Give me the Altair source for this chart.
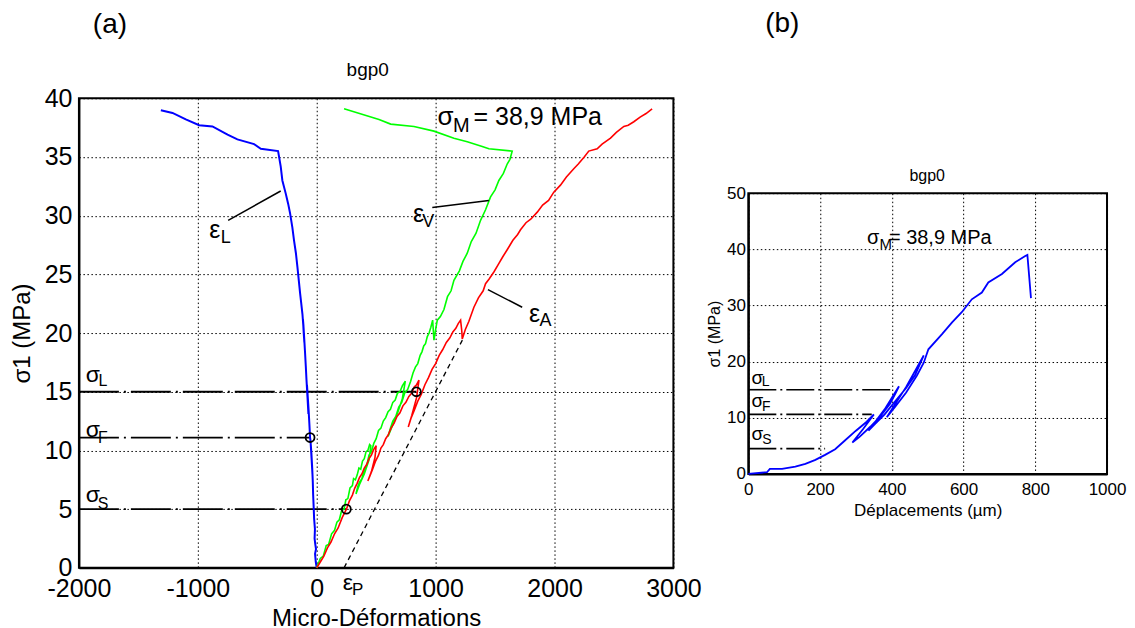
import altair as alt
import pandas as pd

FONT = "Liberation Sans"

# ---------------- Panel (a) data ----------------
epsL_x = [0, -8, -14, -6, -12, -18, -15, -22, -25, -30, -33, -38, -45, -50, -42, -36, -44, -52, -56, -62, -68, -75,
          -82, -76, -70, -78, -86, -92, -98, -105, -112, -116, -110, -104, -112, -120, -130, -140, -150,
          -162, -175, -191, -205, -224, -240, -261, -289, -303, -325, -470, -527, -667, -750, -877, -989,
          -1101, -1213, -1311]
epsL_y = [0, 0.5, 1.2, 1.6, 2.0, 2.5, 3.3, 4.2, 5.0, 6.2, 7.3, 8.5, 9.8, 10.5, 9.2, 8.0, 9.4, 10.8, 11.1, 12.3, 13.4, 14.5,
          15.6, 14.4, 13.1, 14.6, 16.0, 17.2, 18.3, 19.5, 20.7, 21.2, 20.1, 19.2, 20.5, 21.6, 22.5, 23.4, 24.4,
          25.6, 26.8, 27.9, 29.0, 30.2, 31.0, 31.9, 33.0, 34.2, 35.5, 35.7, 36.1, 36.5, 36.9, 37.6, 37.7,
          38.2, 38.75, 38.98]

epsV_x = [0, 30, 55, 80, 100, 125, 150, 170, 190, 210, 230, 245, 262, 280, 300, 310, 325, 340, 355, 370, 385,
          400, 415, 430, 445, 455,
          440, 400, 360, 330,
          345, 360, 380, 400, 420, 440, 460, 480, 500, 520, 540, 560, 580, 600, 620, 640, 660, 680, 700, 720, 745,
          720, 680, 640, 600,
          620, 640, 665, 690, 715, 740, 765, 790, 810, 830, 850, 870, 885, 900, 915, 930, 945, 960, 975,
          980, 986, 1000,
          1014, 1040, 1070, 1100, 1130, 1154, 1200, 1230, 1266, 1300, 1340, 1378, 1420, 1462, 1500, 1532, 1570,
          1602, 1625, 1644,
          1448, 1392, 1266, 1154, 986, 818, 622, 524, 230]
epsV_y = [0, 0.8, 1.0, 1.9, 2.0, 2.9, 3.2, 3.9, 4.1, 4.9, 5.0, 5.8, 5.9, 6.8, 7.0, 7.6, 7.5, 7.9, 8.5, 8.4, 9.1,
          9.3, 9.9, 10.0, 10.5, 10.4,
          9.2, 8.0, 7.1, 6.3,
          6.9, 7.3, 7.6, 8.4, 8.7, 9.6, 9.9, 10.6, 11.0, 11.7, 11.9, 12.5, 12.8, 13.3, 13.5, 14.1, 14.3, 14.9, 15.0,
          15.5, 15.9,
          14.4, 13.2, 12.2, 11.2,
          11.9, 12.5, 12.9, 13.7, 14.1, 14.9, 15.2, 15.9, 16.6, 17.1, 17.4, 18.1, 18.4, 18.9, 19.1, 19.7, 20.0,
          20.5, 21.1,
          20.3, 19.4, 20.3,
          21.1, 21.4, 22.0, 23.1, 23.6, 24.5, 25.3, 26.1, 26.8, 27.8, 28.5, 29.6, 30.5, 31.6, 32.2, 33.0, 33.6,
          34.4, 34.8, 35.5,
          35.7, 35.9, 36.3, 36.6, 37.2, 37.6, 37.8, 38.2, 39.1]

epsA_x = [0, 30, 60, 90, 120, 150, 180, 215, 250, 275, 300, 320, 340, 360, 380, 400, 420, 440, 460, 480, 500,
          490, 460, 430,
          450, 470, 495, 520, 540, 560, 580, 600, 625, 650, 675, 700, 725, 750, 775, 800, 820, 840, 860,
          840, 800, 770,
          795, 820, 850, 880, 910, 940, 970, 1000, 1030, 1060, 1090, 1120, 1145, 1170, 1190, 1210,
          1220, 1224,
          1250, 1280, 1322, 1360, 1400, 1420, 1450, 1490, 1530, 1565, 1602, 1650, 1690, 1714, 1760, 1800, 1855,
          1900, 1950, 1994, 2050, 2100, 2162, 2200, 2250, 2288, 2359, 2400, 2471, 2520, 2583, 2620, 2667, 2720,
          2770, 2821]
epsA_y = [0, 0.5, 1.0, 1.7, 2.2, 2.9, 3.4, 4.3, 5.0, 5.7, 6.2, 6.8, 7.2, 7.7, 8.0, 8.5, 8.8, 9.3, 9.6, 10.1, 10.4,
          9.4, 8.2, 7.4,
          7.9, 8.4, 9.1, 9.6, 10.2, 10.5, 11.0, 11.3, 11.9, 12.3, 12.9, 13.2, 13.8, 14.1, 14.6, 14.9, 15.4, 15.6,
          16.0,
          14.5, 13.0, 12.0,
          12.8, 13.4, 14.2, 14.8, 15.6, 16.2, 16.9, 17.4, 18.1, 18.6, 19.2, 19.6, 20.1, 20.4, 20.8, 21.1,
          20.2, 19.5,
          20.3, 21.0, 22.2, 23.0, 23.6, 24.2, 24.6, 25.2, 25.9, 26.5, 27.1, 27.9, 28.4, 28.8, 29.4, 29.7, 30.3,
          30.9, 31.3, 32.0, 32.6, 33.3, 34.0, 34.4, 35.0, 35.5, 35.7, 36.1, 36.6, 37.1, 37.6, 37.7, 38.0, 38.4,
          38.7, 39.1]

dashP_x = [230, 1225]
dashP_y = [0, 19.4]

thrA_y = [15, 11.1, 5]
thrA_xend = [838, -56, 249]
thrA_xstart = [-2000, -2000, -2000]

# ---------------- Panel (b) data ----------------
disp_x = [0, 52, 60, 94, 131, 159, 187, 214, 242, 270, 300, 330, 350,
          320, 290,
          310, 340, 370, 395, 410, 420,
          380, 335,
          350, 380, 410, 440, 465, 489,
          440, 386,
          410, 440, 470, 489, 502, 540, 568, 595, 623, 651, 669, 707, 744, 772, 778, 788]
disp_y = [0, 0.3, 0.9, 0.9, 1.3, 1.8, 2.5, 3.4, 4.4, 6.0, 7.7, 9.3, 10.6,
          8.0, 5.6,
          6.6, 8.4, 10.4, 12.5, 14.3, 15.6,
          11.5, 7.7,
          8.7, 10.6, 13.0, 15.3, 17.6, 21.1,
          15.5, 10.1,
          12.0, 14.5, 17.5, 19.8, 22.2, 24.9, 27.0, 28.8, 31.1, 32.3, 34.1, 35.6, 37.7, 38.8, 39.0, 31.3]

thrB_y = [15, 10.6, 4.5]
thrB_xend = [400, 344, 214]
thrB_xstart = [0, 0, 0]


def series(xs, ys):
    return pd.DataFrame({"x": xs, "y": ys, "i": list(range(len(xs)))})


def spacer(ypix):
    # invisible element that only fixes the vertical extent of a panel
    return alt.Chart(pd.DataFrame({"k": [0]})).mark_rule(opacity=0).encode(
        x=alt.value(0), x2=alt.value(1), y=alt.value(ypix))


NB = "\u00a0\u00a0"
NEG_LABEL = "datum.value < 0 ? datum.value + '" + NB + "' : '' + datum.value"

# ---------------- Panel (a) ----------------
xa = alt.X("x:Q", scale=alt.Scale(domain=[-2000, 3000], nice=False, zero=False),
           axis=alt.Axis(values=[-2000, -1000, 0, 1000, 2000, 3000], labelExpr=NEG_LABEL,
                         labelFlush=False, title="Micro-Déformations", labelFontSize=25, titleFontSize=24,
                         labelPadding=9, titlePadding=5))
ya = alt.Y("y:Q", scale=alt.Scale(domain=[0, 40], nice=False, zero=False),
           axis=alt.Axis(values=[0, 5, 10, 15, 20, 25, 30, 35, 40], labelExpr="'' + datum.value",
                         title="σ1 (MPa)", labelFontSize=25, titleFontSize=24,
                         labelPadding=7, titlePadding=10))

lineA_blue = alt.Chart(series(epsL_x, epsL_y)).mark_line(color="#0000FF", strokeWidth=2).encode(x=xa, y=ya, order="i:Q")
lineA_green = alt.Chart(series(epsV_x, epsV_y)).mark_line(color="#00FF00", strokeWidth=1.6).encode(x=xa, y=ya, order="i:Q")
lineA_red = alt.Chart(series(epsA_x, epsA_y)).mark_line(color="#FF0000", strokeWidth=1.6).encode(x=xa, y=ya, order="i:Q")
dashA = alt.Chart(series(dashP_x, dashP_y)).mark_line(color="black", strokeWidth=1.3, strokeDash=[5, 4]).encode(x=xa, y=ya, order="i:Q")

thrA = alt.Chart(pd.DataFrame({"x": thrA_xstart, "x2": thrA_xend, "y": thrA_y})).mark_rule(
    color="black", strokeWidth=1.8, strokeDash=[40, 5, 2, 5]).encode(x=xa, x2="x2:Q", y=ya)
circA = alt.Chart(pd.DataFrame({"x": thrA_xend, "y": thrA_y})).mark_point(
    shape="circle", filled=False, color="black", size=80, strokeWidth=1.8, opacity=1).encode(x=xa, y=ya)

leadA = alt.Chart(pd.DataFrame({
    "x": [-745, 972, 1728], "y": [29.6, 30.7, 22.2],
    "x2": [-303, 1448, 1440], "y2": [32.1, 31.3, 23.7]})).mark_rule(color="black", strokeWidth=1.5).encode(
    x=xa, y=ya, x2="x2:Q", y2="y2:Q")

mainA = pd.DataFrame({"x": [-857, 857, 1832, 261, -1882, -1882, -1882, 1084],
                      "y": [28.8, 30.1, 21.6, -1.28, 16.4, 11.7, 6.2, 38.4],
                      "t": ["ε", "ε", "ε", "ε", "σ", "σ", "σ", "σ"],
                      "fs": [25, 25, 25, 23, 23, 23, 23, 26]})
subA = pd.DataFrame({"x": [-765, 937, 1924, 345, -1798, -1798, -1798, 1216],
                     "y": [28.1, 29.5, 21.0, -1.87, 15.9, 11.1, 5.45, 37.6],
                     "t": ["L", "V", "A", "P", "L", "F", "S", "M"],
                     "fs": [18, 18, 18, 17, 16, 16, 16, 20]})
txtA_main = alt.Chart(mainA).mark_text(font=FONT, color="black", baseline="middle", align="center").encode(
    x=xa, y=ya, text="t:N", size=alt.Size("fs:Q", scale=None, legend=None))
txtA_sub = alt.Chart(subA).mark_text(font=FONT, color="black", baseline="middle", align="center").encode(
    x=xa, y=ya, text="t:N", size=alt.Size("fs:Q", scale=None, legend=None))
txtA_max = alt.Chart(pd.DataFrame({"x": [1319], "y": [38.4], "t": ["= 38,9 MPa"]})).mark_text(
    font=FONT, fontSize=25, color="black", baseline="middle", align="left").encode(x=xa, y=ya, text="t:N")

titleA = alt.Chart(pd.DataFrame({"t": ["bgp0"]})).mark_text(
    font=FONT, fontSize=19, color="black", align="center", baseline="middle").encode(
    x=alt.value(289), y=alt.value(-28), text="t:N")
tagA = alt.Chart(pd.DataFrame({"t": ["(a)"]})).mark_text(
    font=FONT, fontSize=28, color="black", align="center", baseline="middle").encode(
    x=alt.value(31), y=alt.value(-73), text="t:N")

panelA = alt.layer(thrA, dashA, lineA_blue, lineA_green, lineA_red, circA, leadA,
                   txtA_main, txtA_sub, txtA_max, titleA, tagA, spacer(694)).properties(width=595, height=470)

# ---------------- Panel (b) ----------------
xb = alt.X("x:Q", scale=alt.Scale(domain=[0, 1000], nice=False, zero=False),
           axis=alt.Axis(values=[0, 200, 400, 600, 800, 1000], labelExpr="'' + datum.value",
                         labelFlush=False, title="Déplacements (µm)", labelFontSize=17, titleFontSize=17,
                         labelPadding=8, titlePadding=5))
yb = alt.Y("y:Q", scale=alt.Scale(domain=[0, 50], nice=False, zero=False),
           axis=alt.Axis(values=[0, 10, 20, 30, 40, 50], labelExpr="'' + datum.value",
                         title="σ1 (MPa)", labelFontSize=17, titleFontSize=16,
                         labelPadding=3, titlePadding=4))

lineB = alt.Chart(series(disp_x, disp_y)).mark_line(color="#0000FF", strokeWidth=1.8).encode(x=xb, y=yb, order="i:Q")
thrB = alt.Chart(pd.DataFrame({"x": thrB_xstart, "x2": thrB_xend, "y": thrB_y})).mark_rule(
    color="black", strokeWidth=1.6, strokeDash=[28, 4, 2, 4]).encode(x=xb, x2="x2:Q", y=yb)

mainB = pd.DataFrame({"x": [25, 25, 25, 348], "y": [17.1, 12.9, 7.1, 42.1],
                      "t": ["σ", "σ", "σ", "σ"], "fs": [19, 19, 19, 20]})
subB = pd.DataFrame({"x": [48, 50, 52, 383], "y": [16.4, 12.0, 6.0, 41.0],
                     "t": ["L", "F", "S", "M"], "fs": [14, 14, 14, 15]})
txtB_main = alt.Chart(mainB).mark_text(font=FONT, color="black", baseline="middle", align="center").encode(
    x=xb, y=yb, text="t:N", size=alt.Size("fs:Q", scale=None, legend=None))
txtB_sub = alt.Chart(subB).mark_text(font=FONT, color="black", baseline="middle", align="center").encode(
    x=xb, y=yb, text="t:N", size=alt.Size("fs:Q", scale=None, legend=None))
txtB_max = alt.Chart(pd.DataFrame({"x": [392], "y": [42.1], "t": ["= 38,9 MPa"]})).mark_text(
    font=FONT, fontSize=20, color="black", baseline="middle", align="left").encode(x=xb, y=yb, text="t:N")

titleB = alt.Chart(pd.DataFrame({"t": ["bgp0"]})).mark_text(
    font=FONT, fontSize=16, color="black", align="center", baseline="middle").encode(
    x=alt.value(179), y=alt.value(-17), text="t:N")
tagB = alt.Chart(pd.DataFrame({"t": ["(b)"]})).mark_text(
    font=FONT, fontSize=28, color="black", align="center", baseline="middle").encode(
    x=alt.value(34), y=alt.value(-169), text="t:N")

panelB = alt.layer(thrB, lineB, txtB_main, txtB_sub, txtB_max, titleB, tagB, spacer(504)).properties(width=359, height=281)

chart = alt.hconcat(panelA, panelB, spacing=3, center=True).properties(
    padding={"left": 1, "top": 1, "right": 0, "bottom": 0}
).configure_view(
    stroke="black", strokeWidth=2
).configure_axis(
    labelFont=FONT, titleFont=FONT, labelColor="black", titleColor="black",
    titleFontWeight="normal", grid=True, gridColor="black", gridDash=[1.5, 2.5],
    gridOpacity=1, gridWidth=1, ticks=False, domainColor="black", domainWidth=2
)

chart.save("out.html", embed_options={"renderer": "svg", "actions": False})
